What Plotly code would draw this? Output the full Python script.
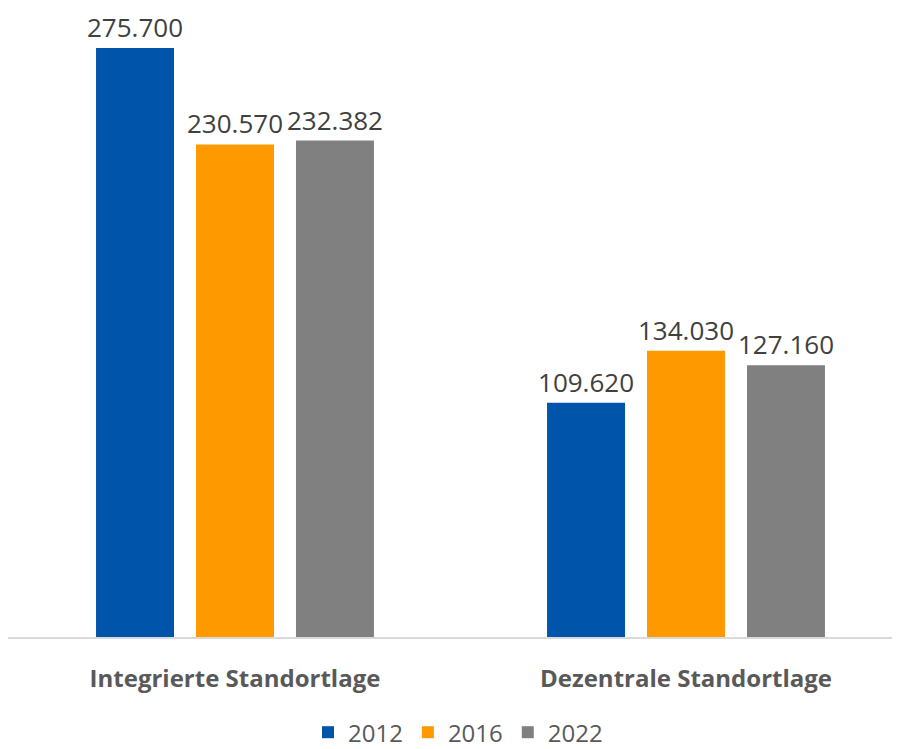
import plotly.graph_objects as go

categories = ["Integrierte Standortlage", "Dezentrale Standortlage"]
years = ["2012", "2016", "2022"]
values_2012 = [275700, 109620]
values_2016 = [230570, 134030]
values_2022 = [232382, 127160]

colors = {"2012": "#0055AA", "2016": "#FF9900", "2022": "#808080"}
series = {"2012": values_2012, "2016": values_2016, "2022": values_2022}

fig = go.Figure()
for year in years:
    fig.add_trace(go.Bar(
        name=year,
        x=categories,
        y=series[year],
        marker=dict(color=colors[year], line=dict(width=0)),
        texttemplate="%{y:,.0f}",
        textposition="outside",
        constraintext="none",
        cliponaxis=False,
        textfont=dict(family="Open Sans", size=26, color="#404040"),
        hoverinfo="skip",
    ))

fig.update_layout(
    width=900,
    height=749,
    paper_bgcolor="white",
    plot_bgcolor="white",
    separators=",.",
    barmode="group",
    bargap=0.335,
    bargroupgap=0.22,
    margin=dict(l=0, r=0, t=0, b=120),
    font=dict(family="Open Sans", color="#595959"),
    showlegend=True,
    legend=dict(
        orientation="h",
        x=0.5,
        xanchor="center",
        y=-0.152,
        yanchor="middle",
        font=dict(size=24, color="#595959"),
        itemwidth=30,
        traceorder="normal",
    ),
)
fig.update_xaxes(
    range=[-0.5033, 1.4922],
    showline=True,
    linecolor="#D9D9D9",
    linewidth=2,
    ticks="",
    showgrid=False,
    tickfont=dict(family="Open Sans", size=24, color="#595959", weight="bold"),
    ticklabelstandoff=19,
)
fig.update_yaxes(
    range=[0, 294400],
    visible=False,
    showgrid=False,
    zeroline=False,
)

fig.write_html("out.html")
